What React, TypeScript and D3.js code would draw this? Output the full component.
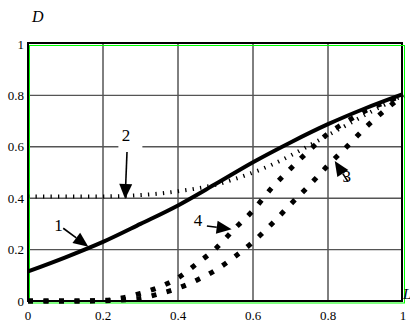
import React, { useEffect, useRef } from "react";
import * as d3 from "d3";

// values, x runs 0..1
const xs1 = [0, 0.1, 0.2, 0.3, 0.4, 0.5, 0.6, 0.7, 0.8, 0.9, 1.0];
const curve1 = [0.115, 0.17, 0.23, 0.3, 0.372, 0.455, 0.54, 0.617, 0.688, 0.75, 0.805];

const xs2 = [0, 0.1, 0.2, 0.3, 0.35, 0.4, 0.45, 0.5, 0.55, 0.6, 0.65, 0.7, 0.75, 0.8, 0.85, 0.9, 0.95, 1.0];
const curve2 = [0.407, 0.407, 0.407, 0.412, 0.418, 0.427, 0.438, 0.452, 0.474, 0.5, 0.53, 0.566, 0.605, 0.645, 0.685, 0.725, 0.763, 0.8];

const xs34 = [0, 0.1, 0.2, 0.25, 0.3, 0.35, 0.4, 0.45, 0.5, 0.55, 0.6, 0.65, 0.7, 0.75, 0.8, 0.85, 0.9, 0.95, 1.0];
const curve3 = [0, 0, 0.001, 0.004, 0.01, 0.028, 0.05, 0.081, 0.12, 0.171, 0.23, 0.3, 0.376, 0.45, 0.528, 0.6, 0.675, 0.74, 0.8];
const curve4 = [0, 0, 0.002, 0.012, 0.03, 0.054, 0.09, 0.145, 0.203, 0.28, 0.352, 0.44, 0.515, 0.586, 0.651, 0.698, 0.74, 0.772, 0.8];

const xTicks = [0, 0.2, 0.4, 0.6, 0.8, 1];
const yTicks = [0, 0.2, 0.4, 0.6, 0.8, 1];
const xTickLabels = ["0", "0.2", "0.4", "0.6", "0.8", "1"];
const yTickLabels = ["0", "0.2", "0.4", "0.6", "0.8", "1"];

// curve numbers with arrows, in data units: label, text, arrow tail, arrow tip
const notes = [
  { label: "1", tx: 0.081, ty: 0.296, ax: 0.094, ay: 0.283, bx: 0.161, by: 0.211 },
  { label: "2", tx: 0.261, ty: 0.646, ax: 0.264, ay: 0.58, bx: 0.259, by: 0.397 },
  { label: "3", tx: 0.85, ty: 0.488, ax: 0.853, ay: 0.465, bx: 0.818, by: 0.545 },
  { label: "4", tx: 0.453, ty: 0.315, ax: 0.477, ay: 0.292, bx: 0.543, by: 0.279 },
];

const SERIF = '"Liberation Serif", "DejaVu Serif", "Times New Roman", serif';

const App = () => {
  const ref = useRef<SVGSVGElement>(null);

  useEffect(() => {
    const svg = d3.select(ref.current);
    svg.selectAll("*").remove();

    const x = d3.scaleLinear().domain([0, 1]).range([28, 403]);
    const y = d3.scaleLinear().domain([0, 1]).range([301, 44]);

    // grid
    svg
      .append("g")
      .selectAll("line")
      .data(xTicks.slice(1, -1))
      .enter()
      .append("line")
      .attr("x1", (d) => x(d))
      .attr("x2", (d) => x(d))
      .attr("y1", y(0))
      .attr("y2", y(1))
      .attr("stroke", "#000")
      .attr("stroke-width", 1);
    svg
      .append("g")
      .selectAll("line")
      .data(yTicks.slice(1, -1))
      .enter()
      .append("line")
      .attr("x1", x(0))
      .attr("x2", x(1))
      .attr("y1", (d) => y(d))
      .attr("y2", (d) => y(d))
      .attr("stroke", "#555")
      .attr("stroke-width", 1.4);

    // frame: black box with a thin green box just off it
    svg
      .append("rect")
      .attr("x", x(0))
      .attr("y", y(1) - 1)
      .attr("width", x(1) - x(0) - 1)
      .attr("height", y(0) - y(1) + 1)
      .attr("fill", "none")
      .attr("stroke", "#000")
      .attr("stroke-width", 2);
    svg
      .append("rect")
      .attr("x", x(0) + 1.5)
      .attr("y", y(1) + 1.5)
      .attr("width", x(1) - x(0))
      .attr("height", y(0) - y(1) + 0.5)
      .attr("fill", "none")
      .attr("stroke", "#00ff00")
      .attr("stroke-width", 1);

    // white box behind label 2
    svg
      .append("rect")
      .attr("x", x(0.241))
      .attr("y", y(0.685))
      .attr("width", 24)
      .attr("height", 24)
      .attr("fill", "#fff");

    // tick labels
    svg
      .append("g")
      .selectAll("text")
      .data(xTicks)
      .enter()
      .append("text")
      .attr("x", (d) => x(d))
      .attr("y", 320)
      .attr("text-anchor", "middle")
      .style("font-family", SERIF)
      .style("font-size", "13px")
      .text((d, i) => xTickLabels[i]);
    svg
      .append("g")
      .selectAll("text")
      .data(yTicks)
      .enter()
      .append("text")
      .attr("x", 24)
      .attr("y", (d) => y(d) + 4.5)
      .attr("text-anchor", "end")
      .style("font-family", SERIF)
      .style("font-size", "13px")
      .text((d, i) => yTickLabels[i]);

    svg
      .append("text")
      .attr("x", 32)
      .attr("y", 22)
      .style("font-family", SERIF)
      .style("font-style", "italic")
      .style("font-size", "16px")
      .text("D");
    svg
      .append("text")
      .attr("x", 403)
      .attr("y", 299)
      .style("font-family", SERIF)
      .style("font-style", "italic")
      .style("font-size", "15px")
      .text("L");

    const line = (xs: number[]) =>
      d3
        .line<number>()
        .x((d, i) => x(xs[i]))
        .y((d) => y(d))
        .curve(d3.curveMonotoneX);

    // curves
    svg
      .append("path")
      .attr("d", line(xs2)(curve2))
      .attr("fill", "none")
      .attr("stroke", "#000")
      .attr("stroke-width", 4)
      .attr("stroke-dasharray", "1.3 6.2");
    svg
      .append("path")
      .attr("d", line(xs34)(curve3))
      .attr("fill", "none")
      .attr("stroke", "#000")
      .attr("stroke-width", 5)
      .attr("stroke-dasharray", "5 10.5");
    svg
      .append("path")
      .attr("d", line(xs34)(curve4))
      .attr("fill", "none")
      .attr("stroke", "#000")
      .attr("stroke-width", 5)
      .attr("stroke-dasharray", "5 10.5");
    svg
      .append("path")
      .attr("d", line(xs1)(curve1))
      .attr("fill", "none")
      .attr("stroke", "#000")
      .attr("stroke-width", 4);

    // labels and arrows
    notes.forEach((n) => {
      svg
        .append("text")
        .attr("x", x(n.tx))
        .attr("y", y(n.ty) + 6)
        .attr("text-anchor", "middle")
        .style("font-family", SERIF)
        .style("font-size", "17px")
        .text(n.label);
      const x0 = x(n.ax),
        y0 = y(n.ay),
        x1 = x(n.bx),
        y1 = y(n.by);
      const len = Math.hypot(x1 - x0, y1 - y0);
      const ux = (x1 - x0) / len,
        uy = (y1 - y0) / len;
      const hl = 15,
        hw = 6.5;
      const bx = x1 - ux * hl,
        by = y1 - uy * hl;
      svg
        .append("line")
        .attr("x1", x0)
        .attr("y1", y0)
        .attr("x2", bx)
        .attr("y2", by)
        .attr("stroke", "#000")
        .attr("stroke-width", 1.6);
      svg
        .append("polygon")
        .attr(
          "points",
          `${x1},${y1} ${bx - uy * hw},${by + ux * hw} ${bx + uy * hw},${by - ux * hw}`
        )
        .attr("fill", "#000");
    });
  }, []);

  return (
    <svg
      ref={ref}
      width={410}
      height={328}
      style={{ position: "absolute", left: 0, top: 0, background: "#fff" }}
    />
  );
};

export default App;
